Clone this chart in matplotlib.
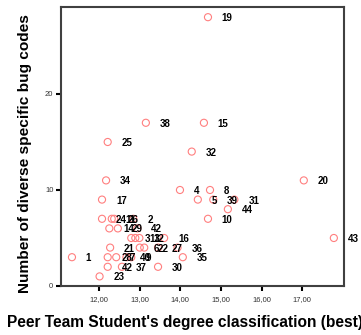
import matplotlib
matplotlib.use("Agg")
import matplotlib.pyplot as plt

# ---------------------------------------------
# data
# ---------------------------------------------
case_ids = ["19", "38", "15", "25", "32", "34", "20", "4", "8", "17",
            "5", "39", "31", "44", "10", "24", "11", "26", "2", "14",
            "29", "42", "3", "13", "12", "16", "43", "21", "6", "22",
            "27", "36", "1", "28", "7", "40", "9", "35", "42", "37",
            "30", "23"]
degree = [14.68, 13.15, 14.58, 12.21, 14.28, 12.17, 17.04, 13.99, 14.73, 12.07,
          14.43, 14.81, 15.33, 15.17, 14.68, 12.07, 12.31, 12.37, 12.84, 12.25,
          12.46, 12.94, 12.79, 12.89, 12.99, 13.60, 17.78, 12.27, 13.00, 13.11,
          13.45, 13.93, 11.33, 12.21, 12.42, 12.67, 12.79, 14.06, 12.21, 12.56,
          13.45, 12.01]
bug_codes = [28, 17, 17, 15, 14, 11, 11, 10, 10, 9,
             9, 9, 9, 8, 7, 7, 7, 7, 7, 6,
             6, 6, 5, 5, 5, 5, 5, 4, 4, 4,
             4, 4, 3, 3, 3, 3, 3, 3, 2, 2,
             2, 1]

x_ticks = [12, 13, 14, 15, 16, 17]
x_tick_labels = ["12,00", "13,00", "14,00", "15,00", "16,00", "17,00"]
y_ticks = [0, 10, 20]

plt.rcParams["font.family"] = ["Liberation Sans", "DejaVu Sans"]

fig = plt.figure(figsize=(3.61, 3.35), dpi=100)
ax = fig.add_axes([61 / 361, 1 - 286 / 335, 283 / 361, 279 / 335])

ax.scatter(degree, bug_codes, s=26, facecolors="none",
           edgecolors="#ff7f7f", linewidths=0.8, zorder=2)

for cid, xv, yv in zip(case_ids, degree, bug_codes):
    ax.annotate(cid, (xv, yv), xytext=(10, -0.7), textcoords="offset points",
                ha="left", va="center", fontsize=7, fontweight="bold",
                color="black", zorder=3)

ax.set_xlim(11.06, 18.03)
ax.set_ylim(0, 29.06)
ax.set_xticks(x_ticks)
ax.set_xticklabels(x_tick_labels)
ax.set_yticks(y_ticks)

for side in ["left", "right", "top", "bottom"]:
    ax.spines[side].set_color("#404040")
    ax.spines[side].set_linewidth(1.5)

ax.tick_params(axis="both", direction="out", length=3.5, width=1.5,
               color="black", labelsize=5.5, labelcolor="#333333", pad=2)
ax.tick_params(axis="x", pad=4)

fig.text(185 / 361, 1 - 323 / 335,
         "Peer Team Student's degree classification (best)",
         ha="center", va="center", fontsize=11.2, fontweight="bold")
fig.text(25 / 361, 1 - 154 / 335, "Number of diverse specific bug codes",
         ha="center", va="center", rotation=90, fontsize=11.1,
         fontweight="bold")

fig.savefig("out.png", dpi=100)
